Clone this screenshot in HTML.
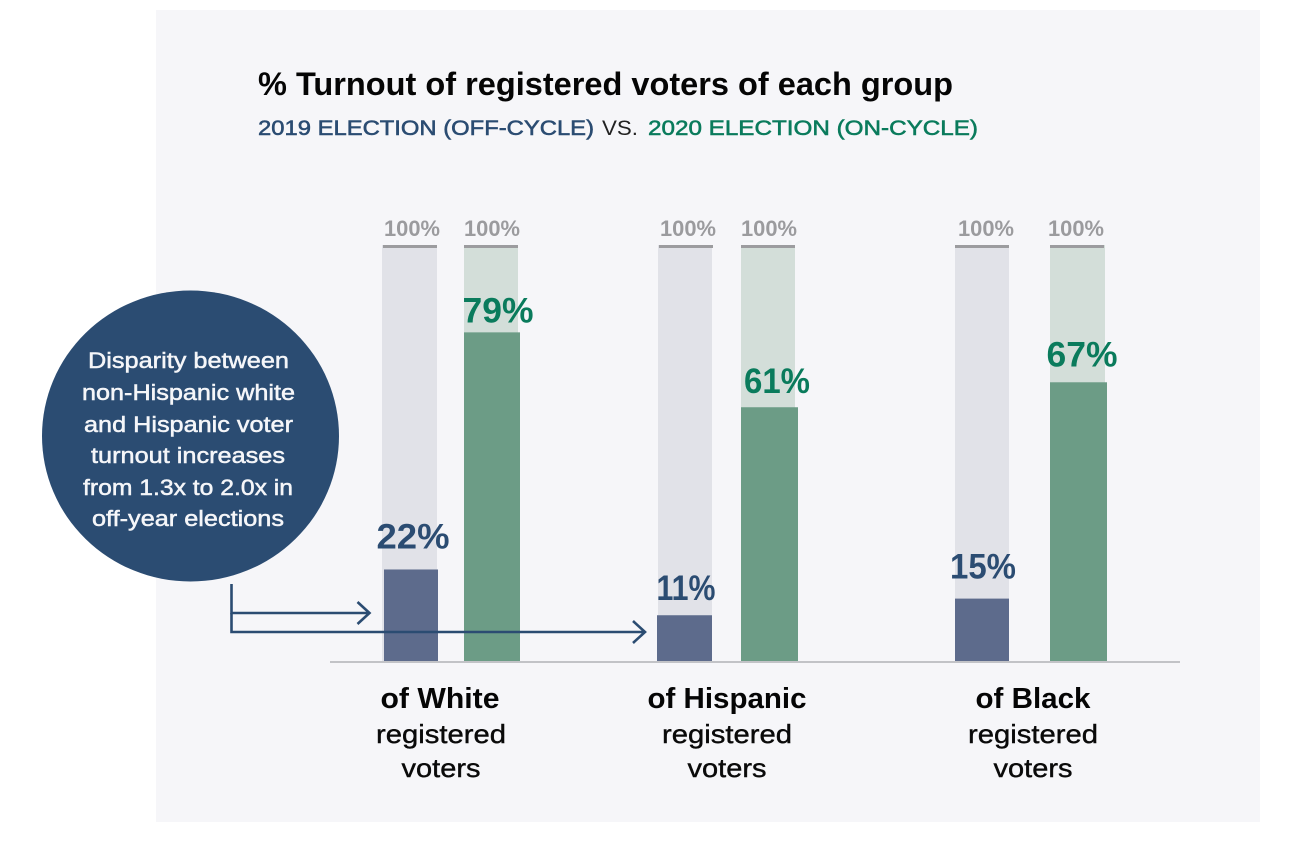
<!DOCTYPE html>
<html lang="en">
<head>
<meta charset="utf-8">
<title>% Turnout of registered voters of each group</title>
<style>
html,body{margin:0;padding:0;background:#fff;width:1314px;height:844px;overflow:hidden}
svg{display:block}
text{font-family:"Liberation Sans",Arial,sans-serif}
</style>
</head>
<body>
<svg id="chart" xmlns="http://www.w3.org/2000/svg" width="1314" height="844" viewBox="0 0 1314 844">
  <rect x="156" y="10" width="1104" height="812" fill="#f6f6f9"/>
  <text x="258" y="95" font-size="32" font-weight="700" fill="#050505" textLength="695" lengthAdjust="spacingAndGlyphs">% Turnout of registered voters of each group</text>
  <g font-size="21" stroke-width="0.55">
    <text x="258" y="135" fill="#2b4c72" stroke="#2b4c72" textLength="336" lengthAdjust="spacingAndGlyphs">2019 ELECTION (OFF-CYCLE)</text>
    <text x="602" y="135" fill="#222" textLength="36" lengthAdjust="spacingAndGlyphs">VS.</text>
    <text x="648" y="135" fill="#0a7b5c" stroke="#0a7b5c" textLength="330" lengthAdjust="spacingAndGlyphs">2020 ELECTION (ON-CYCLE)</text>
  </g>
  <g id="bars"></g>
  <rect x="330" y="661" width="850" height="2" fill="#c2c3c7"/>
  <g id="group-labels"></g>
  <g id="value-labels"></g>

  <g fill="none" stroke="#2b4c72" stroke-width="2.6">
    <path d="M231.5 584V613H369M357.500 602L369.500 613L357.500 624"/>
    <path d="M231.500 613V632H645M633 621L645 632L633 643"/>
  </g>

  <ellipse cx="190.500" cy="436" rx="148.500" ry="145.500" fill="#2b4c72"/>
  <g font-size="22.5" fill="#f5f6f9" stroke="#f5f6f9" stroke-width="0.5">
    <text x="88" y="368" textLength="201" lengthAdjust="spacingAndGlyphs">Disparity between</text>
    <text x="82" y="400" textLength="213" lengthAdjust="spacingAndGlyphs">non-Hispanic white</text>
    <text x="84" y="432" textLength="209" lengthAdjust="spacingAndGlyphs">and Hispanic voter</text>
    <text x="91" y="463" textLength="194" lengthAdjust="spacingAndGlyphs">turnout increases</text>
    <text x="83" y="495" textLength="210" lengthAdjust="spacingAndGlyphs">from 1.3x to 2.0x in</text>
    <text x="92" y="526" textLength="192" lengthAdjust="spacingAndGlyphs">off-year elections</text>
  </g>
</svg>
<script>
// Chart data
var groups = ['White', 'Hispanic', 'Black'];
var turnout2019 = [22, 11, 15];
var turnout2020 = [79, 61, 67];
var fullScale = 100;

// Layout (separate from the data)
var layoutTrackX2019 = [382, 658, 955];
var layoutBarX2019 = [384, 657, 955];
var layoutTrackX2020 = [464, 741, 1050];
var layoutBarX2020 = [464, 741, 1050];
var layoutTrackW2019 = [55, 54, 54];
var layoutBarW2019 = [54, 55, 54];
var layoutTrackW2020 = [54, 54, 55];
var layoutBarW2020 = [56, 57, 57];
var layoutFullLabelX2019 = [412, 688, 986];
var layoutFullLabelX2020 = [492, 769, 1076];
var layoutValueX2019 = [413, 686, 983];
var layoutValueX2020 = [498, 777, 1082];
var layoutValueGap2019 = [21, 15, 20];
var layoutValueGap2020 = [10, 14, 16];
var layoutValueW2019 = [73, 59, 66];
var layoutValueW2020 = [71, 66, 71];
var layoutGroupX = [440, 727, 1033];
var layoutGroupW = [119, 159, 115];

var AXIS_Y = 661;
var PX_PER_POINT = 4.16;
function yScale(v) { return AXIS_Y - v * PX_PER_POINT; }

var NS = 'http://www.w3.org/2000/svg';
var barsG = document.getElementById('bars');
var valuesG = document.getElementById('value-labels');
var groupsG = document.getElementById('group-labels');

function make(tag, parent, attrs, content) {
  var n = document.createElementNS(NS, tag);
  for (var k in attrs) n.setAttribute(k, attrs[k]);
  if (content !== undefined) n.textContent = content;
  parent.appendChild(n);
  return n;
}

function drawBar(groupKey, year, i, value, trackX, trackW, barX, barW, labelX, valueX, valueGap, valueW, trackFill, barFill, valueFill) {
  var track = make('rect', barsG, {x: trackX, y: yScale(fullScale), width: trackW, height: AXIS_Y - yScale(fullScale), fill: trackFill});
  
  

  var cap = make('rect', barsG, {x: trackX + (year === 2019 && i < 2 ? 1 : 0), y: yScale(fullScale), width: 54, height: 3, fill: '#9c9c9f'});
  
  

  var full = make('text', valuesG, {x: labelX, y: 236, 'font-size': 22, 'font-weight': 700, fill: '#9b9b9e', 'text-anchor': 'middle', textLength: 56, lengthAdjust: 'spacingAndGlyphs'}, fullScale + '%');
  
  

  var bar = make('rect', barsG, {x: barX, y: yScale(value), width: barW, height: AXIS_Y - yScale(value), fill: barFill});
  
  

  var label = make('text', valuesG, {x: valueX, y: yScale(value) - valueGap, 'font-size': 35, 'font-weight': 700, fill: valueFill, 'text-anchor': 'middle', textLength: valueW, lengthAdjust: 'spacingAndGlyphs'}, value + '%');
  
  
}

groups.forEach(function (name, i) {
  var key = name.toLowerCase();
  drawBar(key, 2019, i, turnout2019[i], layoutTrackX2019[i], layoutTrackW2019[i], layoutBarX2019[i], layoutBarW2019[i], layoutFullLabelX2019[i], layoutValueX2019[i], layoutValueGap2019[i], layoutValueW2019[i], '#e1e2e8', '#5d6b8c', '#2b4c72');
  drawBar(key, 2020, i, turnout2020[i], layoutTrackX2020[i], layoutTrackW2020[i], layoutBarX2020[i], layoutBarW2020[i], layoutFullLabelX2020[i], layoutValueX2020[i], layoutValueGap2020[i], layoutValueW2020[i], '#d3ded9', '#6c9c86', '#0a7b5c');

  var head = make('text', groupsG, {x: layoutGroupX[i], y: 708, 'font-size': 29, 'font-weight': 700, fill: '#050505', 'text-anchor': 'middle', textLength: layoutGroupW[i], lengthAdjust: 'spacingAndGlyphs'}, 'of ' + name);
  
  

  var line2 = make('text', groupsG, {x: layoutGroupX[i] + (i === 0 ? 1 : 0), y: 743, 'font-size': 26, fill: '#0a0a0a', stroke: '#0a0a0a', 'stroke-width': 0.4, 'text-anchor': 'middle', textLength: 130, lengthAdjust: 'spacingAndGlyphs'}, 'registered');
  
  

  var line3 = make('text', groupsG, {x: layoutGroupX[i] + (i === 0 ? 1 : 0), y: 777, 'font-size': 26, fill: '#0a0a0a', stroke: '#0a0a0a', 'stroke-width': 0.4, 'text-anchor': 'middle', textLength: 79, lengthAdjust: 'spacingAndGlyphs'}, 'voters');
  
  
});
</script>
</body>
</html>
